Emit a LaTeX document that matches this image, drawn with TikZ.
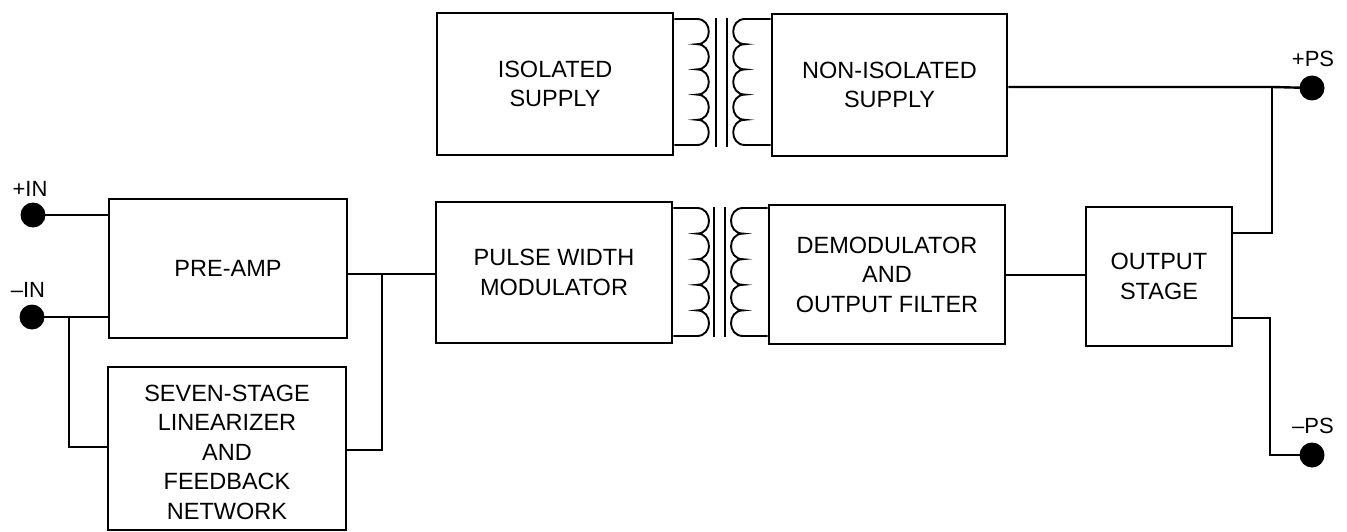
\documentclass[tikz,border=0pt]{standalone}
\usepackage{fontspec}
\setmainfont{Liberation Sans}
\begin{document}
\begin{tikzpicture}[x=1pt,y=-1pt,
  txt/.style={align=center, inner sep=0pt, font=\fontsize{23.5}{29.5}\selectfont},
  box/.style={draw, line width=2.8pt, txt},
  wire/.style={line width=2.4pt},
  coil/.style={line width=1.9pt},
  dot/.style={circle, fill=black, inner sep=0pt, minimum size=25pt},
  lbl/.style={font=\fontsize{22}{26}\selectfont, inner sep=0pt}]
\useasboundingbox (0,0) rectangle (1347,532);
% boxes
\node[box, minimum width=236pt, minimum height=142pt] (iso) at (555,84) {ISOLATED\\SUPPLY};
\node[box, minimum width=235pt, minimum height=142pt] (noniso) at (889.5,85) {NON-ISOLATED\\SUPPLY};
\node[box, minimum width=238pt, minimum height=139pt] (pre) at (228,268.5) {PRE-AMP};
\node[box, minimum width=238pt, minimum height=163pt] (lin) at (227,448.5) {};
\node[txt] (lintext) at (227,452) {SEVEN-STAGE\\LINEARIZER\\AND\\FEEDBACK\\NETWORK};
\node[box, minimum width=236pt, minimum height=141pt] (pwm) at (554,272.5) {PULSE WIDTH\\MODULATOR};
\node[box, minimum width=236pt, minimum height=139pt] (dem) at (887,274.5) {DEMODULATOR\\AND\\OUTPUT FILTER};
\node[box, minimum width=146pt, minimum height=139pt] (out) at (1159,276.5) {OUTPUT\\STAGE};
% terminals
\node[dot] (inp) at (33,215) {};
\node[dot] (inm) at (32,317) {};
\node[dot] (psp) at (1312,88) {};
\node[dot] (psm) at (1312,455) {};
\node[lbl] (linp) at (30,189) {+IN};
\node[lbl] (linm) at (28,290) {–IN};
\node[lbl] (lpsp) at (1313,59) {+PS};
\node[lbl] (lpsm) at (1313,426) {–PS};
% input wiring
\coordinate (j1) at (69,317);
\coordinate (j1b) at (69,447);
\draw[wire] (inp.center) -- (inp.center -| pre.west);
\draw[wire] (inm.center) -- (j1) -- (j1 -| pre.west);
\draw[wire] (j1) -- (j1b) -- (j1b -| lin.west);
\coordinate (j2) at (382,274);
\coordinate (j2b) at (382,450);
\draw[wire] (j2 -| pre.east) -- (j2) -- (j2 -| pwm.west);
\draw[wire] (j2) -- (j2b) -- (j2b -| lin.east);
% demod to output
\coordinate (j3) at (1040,275);
\draw[wire] (j3 -| dem.east) -- (j3 -| out.west);
% power wiring
\coordinate (j4) at (1272,87);
\coordinate (j4b) at (1272,233);
\draw[wire] (j4 -| noniso.east) -- (j4) -- (psp.center);
\draw[wire] (j4) -- (j4b) -- (j4b -| out.east);
\coordinate (j5) at (1270,318);
\coordinate (j5b) at (1270,455);
\draw[wire] (j5 -| out.east) -- (j5) -- (j5b) -- (psm.center);
% top transformer
\coordinate (t1a) at (697,19);
\coordinate (t1b) at (697,145);
\draw[coil] (iso.east |- t1a) -- (t1a)
  \foreach \i in {1,...,5} { to[out=0,in=0,looseness=1.6] ++(0,25.2) }
  -- (iso.east |- t1b);
\coordinate (t2a) at (745,19);
\coordinate (t2b) at (745,145);
\draw[coil] (noniso.west |- t2a) -- (t2a)
  \foreach \i in {1,...,5} { to[out=180,in=180,looseness=1.6] ++(0,25.2) }
  -- (noniso.west |- t2b);
\coordinate (k1a) at (716,18);
\coordinate (k1b) at (716,147);
\coordinate (k2a) at (727,18);
\coordinate (k2b) at (727,147);
\draw[coil] (k1a) -- (k1b);
\draw[coil] (k2a) -- (k2b);
% bottom transformer
\coordinate (t3a) at (697,208);
\coordinate (t3b) at (697,336);
\draw[coil] (pwm.east |- t3a) -- (t3a)
  \foreach \i in {1,...,5} { to[out=0,in=0,looseness=1.6] ++(0,25.6) }
  -- (pwm.east |- t3b);
\coordinate (t4a) at (743,208);
\coordinate (t4b) at (743,336);
\draw[coil] (dem.west |- t4a) -- (t4a)
  \foreach \i in {1,...,5} { to[out=180,in=180,looseness=1.6] ++(0,25.6) }
  -- (dem.west |- t4b);
\coordinate (k3a) at (714,207);
\coordinate (k3b) at (714,337);
\coordinate (k4a) at (725,207);
\coordinate (k4b) at (725,337);
\draw[coil] (k3a) -- (k3b);
\draw[coil] (k4a) -- (k4b);
\end{tikzpicture}
\end{document}
